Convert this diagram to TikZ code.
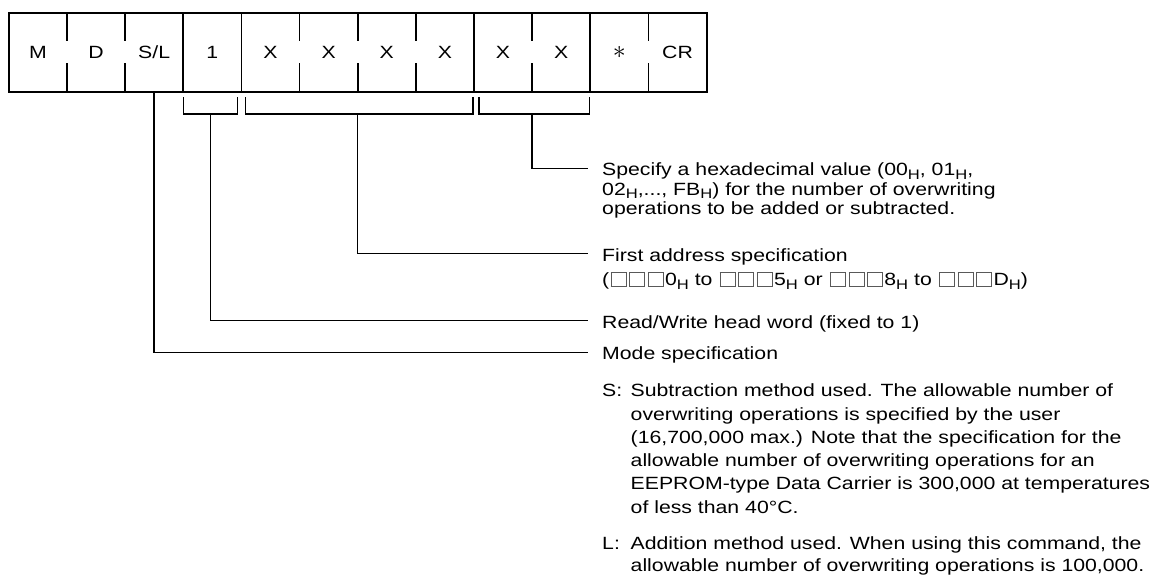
\documentclass[tikz,border=0pt]{standalone}
\usepackage{fontspec}
\usepackage{graphicx}
\setmainfont{Liberation Sans}[FakeStretch=1.2]
\usetikzlibrary{calc,positioning}
\newcommand{\hx}{\raisebox{-3.6pt}{\fontsize{13.8}{14}\selectfont H}}
\newcommand{\sqb}{\kern1.3pt\textcolor{black!65}{\fboxsep=0pt\fboxrule=0.8pt\fbox{\rule{0pt}{13pt}\hspace{14.4pt}}}\kern1.3pt}
\newcommand{\sq}{\sqb\sqb\sqb}

\begin{document}
\begin{tikzpicture}[x=1pt,y=-1pt,
    cell/.style={minimum width=57.75pt,minimum height=79pt,inner sep=0pt,
      text height=12.7pt,text depth=0pt,font=\fontsize{17.7}{22}\selectfont},
    frame/.style={line width=1.8pt},
    lead/.style={line width=1.4pt},
    note/.style={anchor=base west,inner sep=0pt,align=left,
      font=\fontsize{17.7}{23.3}\selectfont}]
    \useasboundingbox (0,0) rectangle (1152,575);
    % command cells
    \node[cell] (c1) at (37.875,52.5) {M};
    \node[cell,right=0pt of c1] (c2) {D};
    \node[cell,right=0pt of c2] (c3) {S/L};
    \node[cell,right=0pt of c3] (c4) {1};
    \node[cell,right=0pt of c4] (c5) {X};
    \node[cell,right=0pt of c5] (c6) {X};
    \node[cell,right=0pt of c6] (c7) {X};
    \node[cell,right=0pt of c7] (c8) {X};
    \node[cell,right=0pt of c8] (c9) {X};
    \node[cell,right=0pt of c9] (c10) {X};
    \node[cell,right=0pt of c10] (c11) {\scalebox{1.5}{$\ast$}};
    \node[cell,right=0pt of c11] (c12) {CR};
    \draw[frame] (c1.north west) rectangle (c12.south east);
    \draw[frame] (c3.north east) -- (c3.south east);
    \draw[frame] (c4.north east) -- (c4.south east);
    \draw[frame] (c8.north east) -- (c8.south east);
    \draw[frame] (c10.north east) -- (c10.south east);
    \draw[frame] (c1.north east) -- ++(0,28) (c1.south east) -- ++(0,-29);
    \draw[frame] (c2.north east) -- ++(0,28) (c2.south east) -- ++(0,-29);
    \draw[frame] (c5.north east) -- ++(0,28) (c5.south east) -- ++(0,-29);
    \draw[frame] (c6.north east) -- ++(0,28) (c6.south east) -- ++(0,-29);
    \draw[frame] (c7.north east) -- ++(0,28) (c7.south east) -- ++(0,-29);
    \draw[frame] (c9.north east) -- ++(0,28) (c9.south east) -- ++(0,-29);
    \draw[frame] (c11.north east) -- ++(0,28) (c11.south east) -- ++(0,-29);
    % brackets
    \draw[lead] ($(c4.south west)+(0,5)$) -- ++(0,17) -| ($(c4.south east)+(-4,5)$);
    \draw[lead] ($(c5.south west)+(4,5)$) -- ++(0,17) -| ($(c8.south east)+(-1,5)$);
    \draw[lead] ($(c9.south west)+(5,5)$) -- ++(0,17) -| ($(c10.south east)+(-1,5)$);
    \coordinate (s1) at ($(c4.south)+(-2,22)$);
    \coordinate (s2) at ($(c6.south east)+(0,22)$);
    \coordinate (s3) at ($(c9.south east)+(0,22)$);
    % notes (placed by the baseline of their last line)
    \node[note,font=\fontsize{17.7}{19.5}\selectfont] (hex) at (602,214.7)
      {Specify a hexadecimal value (00\hx, 01\hx,\\
       02\hx,..., FB\hx) for the number of overwriting\\
       operations to be added or subtracted.};
    \node[note,font=\fontsize{17.7}{24}\selectfont] (addr) at (602,285.7)
      {First address specification\\
       (\sq 0\hx\ to \sq 5\hx\ or \sq 8\hx\ to \sq D\hx)};
    \node[note] (head) at (602,328) {Read/Write head word (fixed to 1)};
    \node[note] (mode) at (602,359.5) {Mode specification};
    \node[note] (subS) at (602,513.2)
      {\makebox[28.5pt][l]{S:}Subtraction method used. The allowable number of\\
       \hspace*{28.5pt}overwriting operations is specified by the user\\
       \hspace*{28.5pt}(16,700,000 max.) Note that the specification for the\\
       \hspace*{28.5pt}allowable number of overwriting operations for an\\
       \hspace*{28.5pt}EEPROM-type Data Carrier is 300,000 at temperatures\\
       \hspace*{28.5pt}of less than 40°C.};
    \node[note,font=\fontsize{17.7}{22}\selectfont] (addL) at (602,571)
      {\makebox[28.5pt][l]{L:}Addition method used. When using this command, the\\
       \hspace*{28.5pt}allowable number of overwriting operations is 100,000.};
    \coordinate (hexend) at (588,168.3);
    \coordinate (addrend) at (588,253.3);
    \coordinate (headend) at (588,320.7);
    \coordinate (modeend) at (588,352.3);
    % leaders
    \draw[lead] (s3) |- (hexend);
    \draw[lead] (s2) |- (addrend);
    \draw[lead] (s1) |- (headend);
    \draw[lead] (c3.south) |- (modeend);
\end{tikzpicture}
\end{document}
